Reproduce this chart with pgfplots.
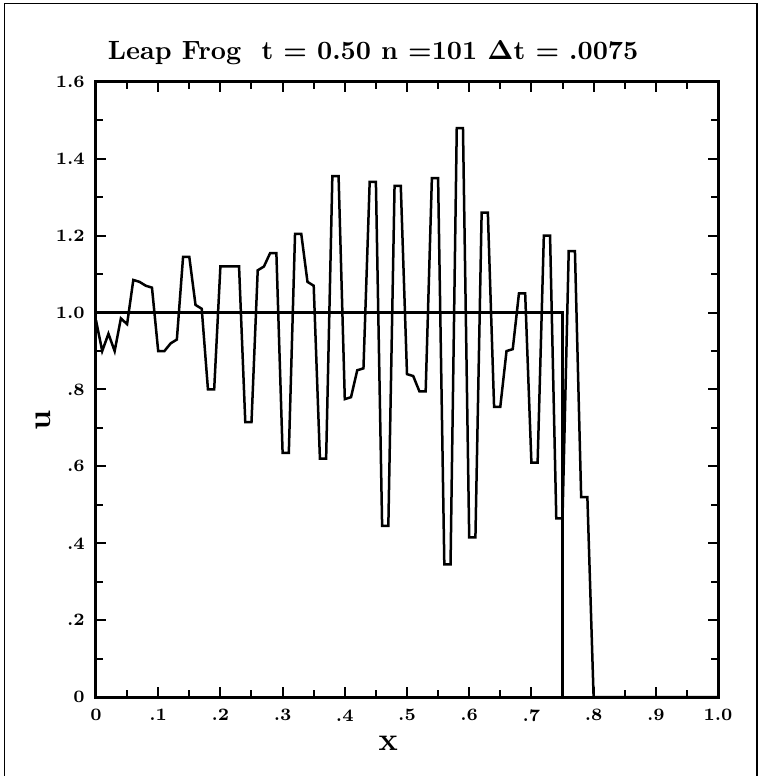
\documentclass[border=0pt]{standalone}
\usepackage{pgfplots}
\pgfplotsset{compat=1.18}

% leap frog solution, n = 101 points
\pgfplotstableread{
x y
0.00 0.98
0.01 0.90
0.02 0.945
0.03 0.90
0.04 0.985
0.05 0.97
0.06 1.085
0.07 1.08
0.08 1.07
0.09 1.065
0.10 0.90
0.11 0.90
0.12 0.92
0.13 0.93
0.14 1.145
0.15 1.145
0.16 1.02
0.17 1.01
0.18 0.80
0.19 0.80
0.20 1.12
0.21 1.12
0.22 1.12
0.23 1.12
0.24 0.715
0.25 0.715
0.26 1.11
0.27 1.12
0.28 1.155
0.29 1.155
0.30 0.635
0.31 0.635
0.32 1.205
0.33 1.205
0.34 1.08
0.35 1.07
0.36 0.62
0.37 0.62
0.38 1.355
0.39 1.355
0.40 0.775
0.41 0.78
0.42 0.85
0.43 0.855
0.44 1.34
0.45 1.34
0.46 0.445
0.47 0.445
0.48 1.33
0.49 1.33
0.50 0.84
0.51 0.835
0.52 0.795
0.53 0.795
0.54 1.35
0.55 1.35
0.56 0.345
0.57 0.345
0.58 1.48
0.59 1.48
0.60 0.415
0.61 0.415
0.62 1.26
0.63 1.26
0.64 0.755
0.65 0.755
0.66 0.90
0.67 0.905
0.68 1.05
0.69 1.05
0.70 0.61
0.71 0.61
0.72 1.20
0.73 1.20
0.74 0.465
0.75 0.465
0.76 1.16
0.77 1.16
0.78 0.52
0.79 0.52
0.80 0
0.85 0
0.90 0
0.95 0
1.00 0
}\leapfrog

\begin{document}
\begin{tikzpicture}
\useasboundingbox (-38.4bp,-31.6bp) rectangle (265.2bp,278.8bp);
\draw[line width=0.7bp] (-36.6bp,-31.6bp) -- (-36.6bp,277.4bp) -- (264.4bp,277.4bp) -- (264.4bp,-31.6bp);
\begin{axis}[
    at={(0,0)}, anchor=south west,
    scale only axis,
    width=248.8bp, height=246bp,
    xmin=0, xmax=1, ymin=0, ymax=1.6,
    xtick={0,0.1,0.2,0.3,0.4,0.5,0.6,0.7,0.8,0.9,1.0},
    xticklabels={0,.1,.2,.3,.4,.5,.6,.7,.8,.9,1.0},
    ytick={0,0.2,0.4,0.6,0.8,1.0,1.2,1.4,1.6},
    yticklabels={0,.2,.4,.6,.8,1.0,1.2,1.4,1.6},
    minor x tick num=1, minor y tick num=1,
    tick align=inside,
    major tick length=4bp, minor tick length=2.8bp,
    every tick/.style={black, line width=0.8bp},
    axis line style={line width=1.2bp},
    ticklabel style={font=\fontsize{7}{8}\selectfont\bfseries},
    xticklabel style={yshift=-1.5bp},
    yticklabel style={xshift=-1bp},
    clip=false,
]
\addplot[black, line width=1bp] table {\leapfrog};
\addplot[black, line width=1bp] coordinates {(0,1) (0.75,1) (0.75,0)};
\node[anchor=base west, font=\fontsize{10.6}{12}\selectfont\bfseries]
    at ([yshift=9bp]rel axis cs:0.005,1) {Leap Frog\ \ t = 0.50 n =101 $\mathbf{\Delta}$t = .0075};
\node[anchor=center, font=\fontsize{13}{14}\selectfont\bfseries]
    at ([yshift=-18.4bp]rel axis cs:0.47,0) {x};
\node[anchor=center, rotate=90, font=\fontsize{13}{14}\selectfont\bfseries]
    at ([xshift=-21bp]axis cs:0,0.72) {u};
\end{axis}
\end{tikzpicture}
\end{document}
